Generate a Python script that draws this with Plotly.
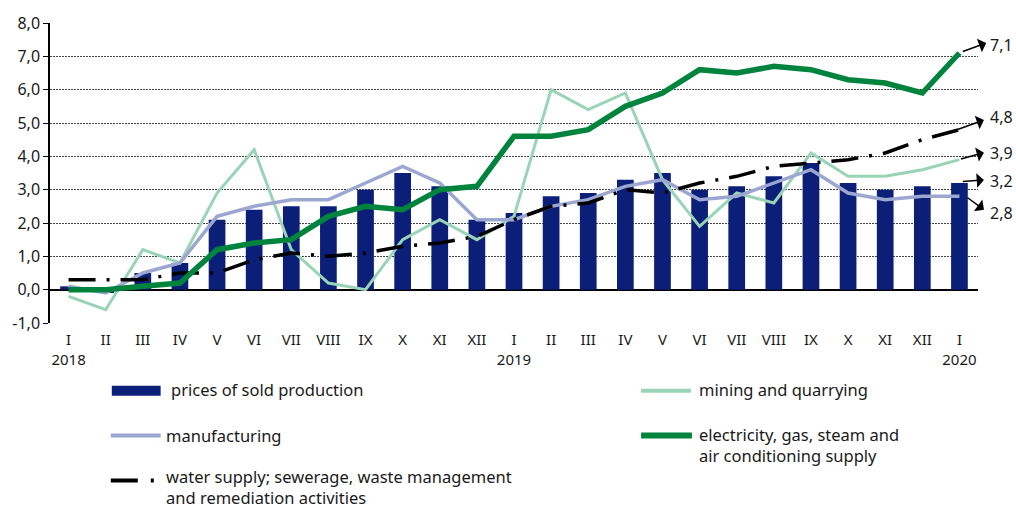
import plotly.graph_objects as go

# ---------------- data ----------------
month_labels = ["I", "II", "III", "IV", "V", "VI", "VII", "VIII", "IX", "X", "XI", "XII",
                "I", "II", "III", "IV", "V", "VI", "VII", "VIII", "IX", "X", "XI", "XII", "I"]
year_labels = {0: "2018", 12: "2019", 24: "2020"}

prices_sold = [0.1, -0.1, 0.5, 0.8, 2.1, 2.4, 2.5, 2.5, 3.0, 3.5, 3.1, 2.1,
               2.3, 2.8, 2.9, 3.3, 3.5, 3.0, 3.1, 3.4, 3.8, 3.2, 3.0, 3.1, 3.2]
mining = [-0.2, -0.6, 1.2, 0.8, 2.9, 4.2, 1.2, 0.2, 0.0, 1.5, 2.1, 1.5,
          2.2, 6.0, 5.4, 5.9, 3.3, 1.9, 2.9, 2.6, 4.1, 3.4, 3.4, 3.6, 3.9]
manufacturing = [0.1, -0.1, 0.5, 0.8, 2.2, 2.5, 2.7, 2.7, 3.2, 3.7, 3.2, 2.1,
                 2.1, 2.5, 2.7, 3.1, 3.3, 2.7, 2.8, 3.2, 3.6, 2.9, 2.7, 2.8, 2.8]
electricity = [0.0, 0.0, 0.1, 0.2, 1.2, 1.4, 1.5, 2.2, 2.5, 2.4, 3.0, 3.1,
               4.6, 4.6, 4.8, 5.5, 5.9, 6.6, 6.5, 6.7, 6.6, 6.3, 6.2, 5.9, 7.1]
water = [0.3, 0.3, 0.3, 0.5, 0.5, 0.9, 1.1, 1.0, 1.1, 1.3, 1.4, 1.6,
         2.1, 2.5, 2.6, 3.0, 2.9, 3.2, 3.4, 3.7, 3.8, 3.9, 4.1, 4.5, 4.8]

y_tick_values = [-1, 0, 1, 2, 3, 4, 5, 6, 7, 8]
y_tick_labels = ["-1,0", "0,0", "1,0", "2,0", "3,0", "4,0", "5,0", "6,0", "7,0", "8,0"]

legend_names = {
    "prices": "prices of sold production",
    "mining": "mining and quarrying",
    "manuf": "manufacturing",
    "elec": "electricity, gas, steam and<br>air conditioning supply",
    "water": "water supply; sewerage, waste management<br>and remediation activities",
}

# ---------------- styles ----------------
C_BAR = "#0b1f78"
C_MIN = "#98d4b5"
C_MAN = "#9ba7d0"
C_ELE = "#00843d"
C_WAT = "#000000"
FONT = "Noto Sans, Open Sans, sans-serif"
TXT = "#1a1a1a"

x = list(range(len(month_labels)))
ticktext = [m + ("<br>" + year_labels[i] if i in year_labels else "") for i, m in enumerate(month_labels)]

fig = go.Figure()
fig.add_trace(go.Bar(x=x, y=prices_sold, width=0.45, marker=dict(color=C_BAR, line=dict(width=0)),
                     name=legend_names["prices"], showlegend=False))
fig.add_trace(go.Scatter(x=x, y=mining, mode="lines", line=dict(color=C_MIN, width=3),
                         name=legend_names["mining"], showlegend=False))
fig.add_trace(go.Scatter(x=x, y=manufacturing, mode="lines", line=dict(color=C_MAN, width=3.5),
                         name=legend_names["manuf"], showlegend=False))
fig.add_trace(go.Scatter(x=x, y=water, mode="lines",
                         line=dict(color=C_WAT, width=3.5, dash="27px,11px,3px,11px"),
                         name=legend_names["water"], showlegend=False))
fig.add_trace(go.Scatter(x=x, y=electricity, mode="lines", line=dict(color=C_ELE, width=5.5),
                         name=legend_names["elec"], showlegend=False))

# ---------------- geometry helpers ----------------
PL, PR, PT, PB = 47, 978, 22, 323
def px(v):
    return (v - PL) / (PR - PL)
def py(v):
    return (PB - v) / (PB - PT)

# ---------------- end labels with arrows ----------------
last = len(x) - 1
end_specs = [  # (series last value, tail dx, tail dy, head x, head y, label y)
    (electricity[last], 0.05, 0.03, 24.72, 7.40, 7.34),
    (water[last], -0.09, -0.01, 24.66, 5.09, 5.19),
    (mining[last], 0.0, 0.01, 24.66, 4.11, 4.11),
    (prices_sold[last], 0.05, 0.04, 24.66, 3.29, 3.26),
    (manufacturing[last], 0.18, -0.01, 24.66, 2.40, 2.30),
]
annotations = []
for v, tdx, tdy, hx, hy, ly in end_specs:
    annotations.append(dict(x=hx, y=hy, xref="x", yref="y", ax=last + tdx, ay=v + tdy,
                            axref="x", ayref="y", text="", showarrow=True,
                            arrowhead=1, arrowsize=1.6, arrowwidth=1.5, arrowcolor="#000"))
    annotations.append(dict(x=px(988), y=ly, xref="paper", yref="y", text=f"{v:.1f}".replace(".", ","),
                            showarrow=False, xanchor="left", yanchor="middle",
                            font=dict(family=FONT, size=16, color=TXT)))

# ---------------- manual legend ----------------
shapes = [
    dict(type="rect", xref="paper", yref="paper", x0=px(109), x1=px(158), y0=py(396), y1=py(386),
         fillcolor=C_BAR, line=dict(width=0)),
    dict(type="line", xref="paper", yref="paper", x0=px(640), x1=px(690), y0=py(391), y1=py(391),
         line=dict(color=C_MIN, width=4)),
    dict(type="line", xref="paper", yref="paper", x0=px(108), x1=px(158), y0=py(436), y1=py(436),
         line=dict(color=C_MAN, width=4)),
    dict(type="line", xref="paper", yref="paper", x0=px(640), x1=px(691), y0=py(436), y1=py(436),
         line=dict(color=C_ELE, width=6)),
    dict(type="line", xref="paper", yref="paper", x0=px(108), x1=px(152), y0=py(481), y1=py(481),
         line=dict(color=C_WAT, width=4, dash="27px,13px,3px,100px")),
]
legend_text = [
    (legend_names["prices"], 166, 390),
    (legend_names["mining"], 696, 390),
    (legend_names["manuf"], 161, 436),
    (legend_names["elec"], 696, 445),
    (legend_names["water"], 161, 488),
]
for t, lx, ly in legend_text:
    annotations.append(dict(x=px(lx), y=py(ly), xref="paper", yref="paper", text=t, showarrow=False,
                            xanchor="left", yanchor="middle", align="left",
                            font=dict(family=FONT, size=16.5, color=TXT)))

fig.update_layout(
    width=1016, height=509,
    margin=dict(l=PL, r=1016 - PR, t=PT, b=509 - PB),
    plot_bgcolor="white", paper_bgcolor="white",
    font=dict(family=FONT, size=15, color=TXT),
    showlegend=False,
    annotations=annotations,
    shapes=shapes,
    xaxis=dict(range=[-0.5, 24.5], tickmode="array", tickvals=x, ticktext=ticktext,
               showgrid=False, zeroline=False, showline=False, ticks="",
               ticklabelstandoff=6,
               tickfont=dict(family=FONT, size=15, color=TXT)),
    xaxis2=dict(range=[-0.5, 24.5], overlaying="x", anchor="free", position=1 / 9, side="bottom",
                tickmode="array", tickvals=[i - 0.5 for i in range(len(x) + 1)],
                showticklabels=False, ticks="outside", ticklen=5, tickcolor="#000", tickwidth=1,
                showgrid=False, zeroline=False, showline=False),
    yaxis=dict(range=[-1, 8], tickmode="array", tickvals=y_tick_values, ticktext=y_tick_labels,
               showgrid=True, gridcolor="#444", gridwidth=1, griddash="2px,1px",
               zeroline=True, zerolinecolor="#000", zerolinewidth=1.5,
               showline=True, linecolor="#000", linewidth=1.5,
               ticks="outside", ticklen=5, tickcolor="#000",
               tickfont=dict(family=FONT, size=16, color=TXT)),
)

fig.write_html("out.html", config={"displayModeBar": False},
               post_script="document.body.style.margin='0';")
